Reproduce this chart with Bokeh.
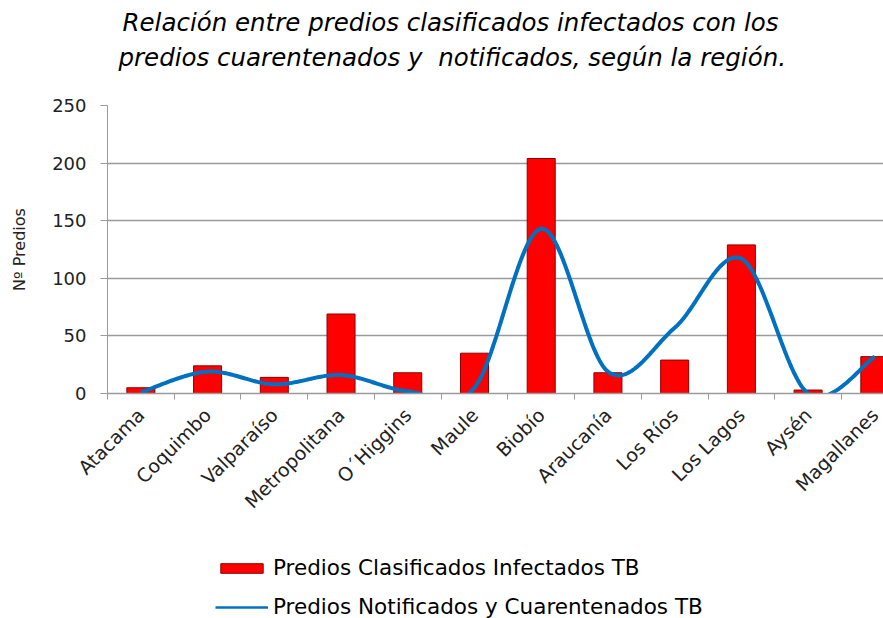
import numpy as np
from bokeh.plotting import figure
from bokeh.layouts import column
from bokeh.models import Range1d, FixedTicker, Legend, LegendItem, Title, ColumnDataSource
from bokeh.embed import file_html
from bokeh.resources import INLINE

regions = ["Atacama", "Coquimbo", "Valparaíso", "Metropolitana", "O´Higgins", "Maule",
           "Biobío", "Araucanía", "Los Ríos", "Los Lagos", "Aysén", "Magallanes"]
infectados = [5, 24, 14, 69, 18, 35, 204, 18, 29, 129, 3, 32]
notificados = [1, 19, 8, 16, 2, 5, 143, 19, 57, 117, 0, 32]
y_ticks = [0, 50, 100, 150, 200, 250]
title_lines = ["Relación entre predios clasificados infectados con los",
               "predios cuarentenados y\u00a0 notificados, según la región."]
legend_labels = ["Predios Clasificados Infectados TB",
                 "Predios Notificados y Cuarentenados TB"]

FONT = "DejaVu Sans"
BAR_FILL = "#ff0000"
BAR_LINE = "#8b0000"
LINE_COL = "#0070c0"
GRID = "#9a9a9a"


def smooth(xv, yv, n=40):
    """Excel-like smoothed line: Catmull-Rom bezier through the points."""
    P = np.column_stack([xv, yv]).astype(float)
    out = []
    m = len(P)
    for i in range(m - 1):
        p0 = P[i - 1] if i > 0 else P[i]
        p1 = P[i]
        p2 = P[i + 1]
        p3 = P[i + 2] if i + 2 < m else P[i + 1]
        c1 = p1 + (p2 - p0) / 6.0
        c2 = p2 - (p3 - p1) / 6.0
        t = np.linspace(0, 1, n, endpoint=(i == m - 2))[:, None]
        seg = ((1 - t) ** 3) * p1 + 3 * ((1 - t) ** 2) * t * c1 + 3 * (1 - t) * t ** 2 * c2 + t ** 3 * p2
        out.append(seg)
    out = np.vstack(out)
    return out[:, 0], out[:, 1]


xpos = list(range(len(regions)))
src = ColumnDataSource(dict(x=xpos, top=infectados))
sx, sy = smooth(xpos, notificados)
line_src = ColumnDataSource(dict(x=sx, y=sy))

p = figure(width=883, frame_width=776, frame_height=288,
           x_range=Range1d(-0.5, 11.13), y_range=Range1d(0, 250),
           output_backend="svg", toolbar_location=None,
           min_border_left=107, min_border_right=0, min_border_top=0, min_border_bottom=140)
p.outline_line_color = None
p.background_fill_color = "white"
p.border_fill_color = "white"

# title: two lines, second line is nearest the frame
t2 = Title(text=title_lines[1] + "\n ", align="left", offset=11,
           text_font=FONT, text_font_style="italic", text_font_size="24.5px",
           text_color="black", text_line_height=1.14, standoff=0)
t1 = Title(text=title_lines[0], align="left", offset=15,
           text_font=FONT, text_font_style="italic", text_font_size="24.5px",
           text_color="black", text_line_height=1.14, standoff=10)
p.add_layout(t2, "above")
p.add_layout(t1, "above")

p.vbar(x="x", top="top", width=0.42, source=src,
       fill_color=BAR_FILL, line_color=BAR_LINE, line_width=1)
p.line(x="x", y="y", source=line_src, line_color=LINE_COL, line_width=4)

# y axis
p.yaxis.ticker = FixedTicker(ticks=y_ticks)
p.yaxis.axis_label = "Nº Predios"
p.yaxis.axis_label_text_font = FONT
p.yaxis.axis_label_text_font_style = "normal"
p.yaxis.axis_label_text_font_size = "16px"
p.yaxis.axis_label_text_color = "#222222"
p.yaxis.axis_label_standoff = 20
p.yaxis.major_label_text_font = FONT
p.yaxis.major_label_text_font_size = "18px"
p.yaxis.major_label_text_color = "#222222"
p.yaxis.major_label_standoff = 14
p.yaxis.axis_line_color = GRID
p.yaxis.major_tick_line_color = GRID
p.yaxis.major_tick_out = 7
p.yaxis.major_tick_in = 0
p.yaxis.minor_tick_line_color = None
p.ygrid.grid_line_color = GRID
p.ygrid.grid_line_width = 1.5
p.xgrid.visible = False

# x axis
p.xaxis.ticker = FixedTicker(ticks=xpos, minor_ticks=[i - 0.5 for i in range(len(regions) + 1)])
p.xaxis.major_label_overrides = {i: r for i, r in enumerate(regions)}
p.xaxis.major_label_orientation = np.pi / 4
p.xaxis.major_label_text_font = FONT
p.xaxis.major_label_text_font_size = "19px"
p.xaxis.major_label_text_color = "#222222"
p.xaxis.major_label_standoff = 12
p.xaxis.major_tick_line_color = None
p.xaxis.minor_tick_line_color = GRID
p.xaxis.minor_tick_out = 6
p.xaxis.minor_tick_in = 0
p.xaxis.axis_line_color = GRID
p.xaxis.axis_line_width = 1.5

# legend strip below the chart (same series, drawn far outside its view)
pl = figure(width=883, height=86, x_range=Range1d(-0.5, 11.13), y_range=Range1d(10000, 10001),
            output_backend="svg", toolbar_location=None,
            x_axis_location=None, y_axis_location=None,
            min_border_left=107, min_border_right=0, min_border_top=0, min_border_bottom=0)
pl.outline_line_color = None
pl.xgrid.visible = False
pl.ygrid.visible = False
pl.background_fill_color = "white"
pl.border_fill_color = "white"
leg_bar = pl.vbar(x="x", top="top", width=0.42, source=src,
                  fill_color=BAR_FILL, line_color=BAR_LINE, line_width=1)
leg_line = pl.line(x="x", y="y", source=line_src, line_color=LINE_COL, line_width=2.5)

legend = Legend(items=[
    LegendItem(label=legend_labels[0], renderers=[leg_bar]),
    LegendItem(label=legend_labels[1], renderers=[leg_line]),
], orientation="vertical", location=(108, 0),
    glyph_width=53, glyph_height=12, label_height=25, label_standoff=5,
    label_text_font=FONT, label_text_font_size="21.5px", label_text_color="black",
    border_line_color=None, background_fill_alpha=0, spacing=14, padding=0, margin=0)
pl.add_layout(legend)

layout = column(p, pl, spacing=0)
open("out.html", "w").write(file_html(layout, INLINE))
